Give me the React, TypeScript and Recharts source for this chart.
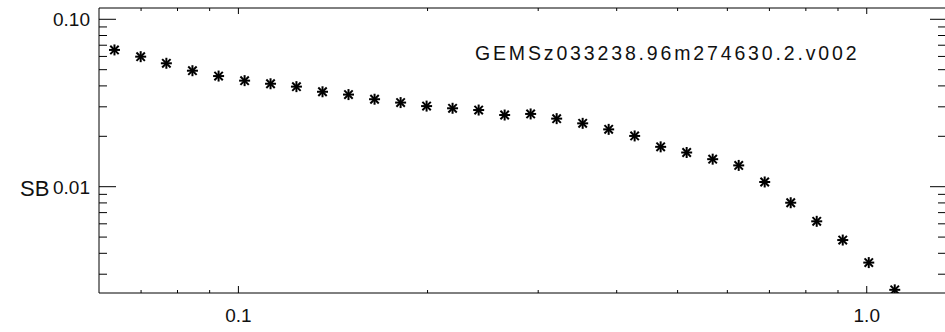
import React from "react";
import { ScatterChart, Scatter, XAxis, YAxis } from "recharts";

// Radius (x) values
const radius = [
  0.0635, 0.0699, 0.0768, 0.0845, 0.093, 0.1023, 0.1125, 0.1237, 0.1361, 0.1497,
  0.1647, 0.1812, 0.1993, 0.2192, 0.2412, 0.2653, 0.2918, 0.321, 0.3531, 0.3884,
  0.4272, 0.4699, 0.5169, 0.5686, 0.6255, 0.688, 0.7568, 0.8325, 0.9158, 1.0074,
  1.1081,
];
// Surface brightness values
const sb = [
  0.0656, 0.0598, 0.0546, 0.0493, 0.0458, 0.043, 0.0412, 0.0396, 0.0369, 0.0355,
  0.0333, 0.0318, 0.0303, 0.0294, 0.0287, 0.0268, 0.0272, 0.0255, 0.0239, 0.022,
  0.0201, 0.0173, 0.016, 0.0146, 0.0134, 0.01067, 0.00802, 0.00621, 0.0048, 0.00352,
  0.00242,
];

const xMajorTicks = [0.1, 1.0];
const xMajorLabels = ["0.1", "1.0"];
const xMinorTicks = [0.07, 0.08, 0.09, 0.2, 0.3, 0.4, 0.5, 0.6, 0.7, 0.8, 0.9];
const yMajorTicks = [0.1, 0.01];
const yMajorLabels = ["0.10", "0.01"];
const yMinorTicks = [
  0.09, 0.08, 0.07, 0.06, 0.05, 0.04, 0.03, 0.02,
  0.009, 0.008, 0.007, 0.006, 0.005, 0.004, 0.003,
];

const title = "GEMSz033238.96m274630.2.v002";
const yTitle = "SB";

const xDomain = [0.06, 1.337];
const yDomain = [0.002317, 0.1168];

const data = radius.map((r, i) => ({ r, sb: sb[i] }));
const xTicks = [...xMinorTicks, ...xMajorTicks].sort((a, b) => a - b);
const yTicks = [...yMinorTicks, ...yMajorTicks].sort((a, b) => a - b);

const FONT = "'Liberation Sans', Arial, Helvetica, sans-serif";
const TXT = "#111";

const LeftTick = (props: any) => {
  const { x, y, payload } = props;
  const idx = yMajorTicks.indexOf(payload.value);
  const major = idx >= 0;
  return (
    <g>
      <line x1={x} y1={y} x2={x + (major ? 17 : 8)} y2={y} stroke="#000" strokeWidth={1} />
      {major && (
        <text x={x - 9} y={y} dy={7} textAnchor="end" fontSize={19} fontFamily={FONT} fill={TXT}>
          {yMajorLabels[idx]}
        </text>
      )}
    </g>
  );
};

const RightTick = (props: any) => {
  const { x, y, payload } = props;
  const major = yMajorTicks.indexOf(payload.value) >= 0;
  return <line x1={x} y1={y} x2={x - (major ? 16 : 8)} y2={y} stroke="#000" strokeWidth={1} />;
};

const BottomTick = (props: any) => {
  const { x, y, payload } = props;
  const idx = xMajorTicks.indexOf(payload.value);
  const major = idx >= 0;
  return (
    <g>
      <line x1={x} y1={y} x2={x} y2={y - (major ? 7 : 3)} stroke="#000" strokeWidth={1} />
      {major && (
        <text x={x} y={y} dy={28.5} textAnchor="middle" fontSize={19} fontFamily={FONT} fill={TXT}>
          {xMajorLabels[idx]}
        </text>
      )}
    </g>
  );
};

const TopTick = (props: any) => {
  const { x, y, payload } = props;
  const major = xMajorTicks.indexOf(payload.value) >= 0;
  return <line x1={x} y1={y} x2={x} y2={y + (major ? 6 : 3)} stroke="#000" strokeWidth={1} />;
};

const Asterisk = (props: any) => {
  const { cx, cy } = props;
  if (cx == null || cy == null) return <g />;
  const h = 5.5;
  const d = 4.2;
  return (
    <g stroke="#000" strokeWidth={2}>
      <line x1={cx - h} y1={cy} x2={cx + h} y2={cy} />
      <line x1={cx} y1={cy - h} x2={cx} y2={cy + h} />
      <line x1={cx - d} y1={cy - d} x2={cx + d} y2={cy + d} />
      <line x1={cx - d} y1={cy + d} x2={cx + d} y2={cy - d} />
    </g>
  );
};

const Empty = () => <g />;

export default function App() {
  return (
    <div
      style={{
        position: "absolute",
        left: 0,
        top: 0,
        width: 945,
        height: 332,
        overflow: "hidden",
        background: "#fff",
      }}
    >
      <ScatterChart
        width={947}
        height={332}
        margin={{ top: 7, right: 0, bottom: 38, left: 98 }}
      >
        <XAxis
          xAxisId="bottom"
          dataKey="r"
          type="number"
          scale="log"
          domain={xDomain}
          allowDataOverflow
          ticks={xTicks}
          interval={0}
          height={1}
          tickSize={0}
          tickMargin={0}
          tickLine={false}
          axisLine={{ stroke: "#000", strokeWidth: 1 }}
          tick={<BottomTick />}
        />
        <XAxis
          xAxisId="top"
          orientation="top"
          dataKey="r"
          type="number"
          scale="log"
          domain={xDomain}
          allowDataOverflow
          ticks={xTicks}
          interval={0}
          height={1}
          tickSize={0}
          tickMargin={0}
          tickLine={false}
          axisLine={{ stroke: "#000", strokeWidth: 1 }}
          tick={<TopTick />}
        />
        <YAxis
          yAxisId="left"
          dataKey="sb"
          type="number"
          scale="log"
          domain={yDomain}
          allowDataOverflow
          ticks={yTicks}
          interval={0}
          width={1}
          tickSize={0}
          tickMargin={0}
          tickLine={false}
          axisLine={{ stroke: "#000", strokeWidth: 1 }}
          tick={<LeftTick />}
        />
        <YAxis
          yAxisId="right"
          orientation="right"
          dataKey="sb"
          type="number"
          scale="log"
          domain={yDomain}
          allowDataOverflow
          ticks={yTicks}
          interval={0}
          width={1}
          tickSize={0}
          tickMargin={0}
          tickLine={false}
          axisLine={{ stroke: "#000", strokeWidth: 1 }}
          tick={<RightTick />}
        />
        <Scatter
          data={data}
          xAxisId="bottom"
          yAxisId="left"
          shape={<Asterisk />}
          isAnimationActive={false}
        />
        <Scatter
          data={data}
          xAxisId="top"
          yAxisId="right"
          shape={<Empty />}
          isAnimationActive={false}
        />
      </ScatterChart>
      <svg
        width={945}
        height={332}
        style={{ position: "absolute", left: 0, top: 0, pointerEvents: "none" }}
      >
        <text x={475} y={60} fontSize={19.5} letterSpacing={2.85} fontFamily={FONT} fill={TXT}>
          {title}
        </text>
        <text x={20} y={196} fontSize={22} fontFamily={FONT} fill={TXT}>
          {yTitle}
        </text>
      </svg>
    </div>
  );
}
